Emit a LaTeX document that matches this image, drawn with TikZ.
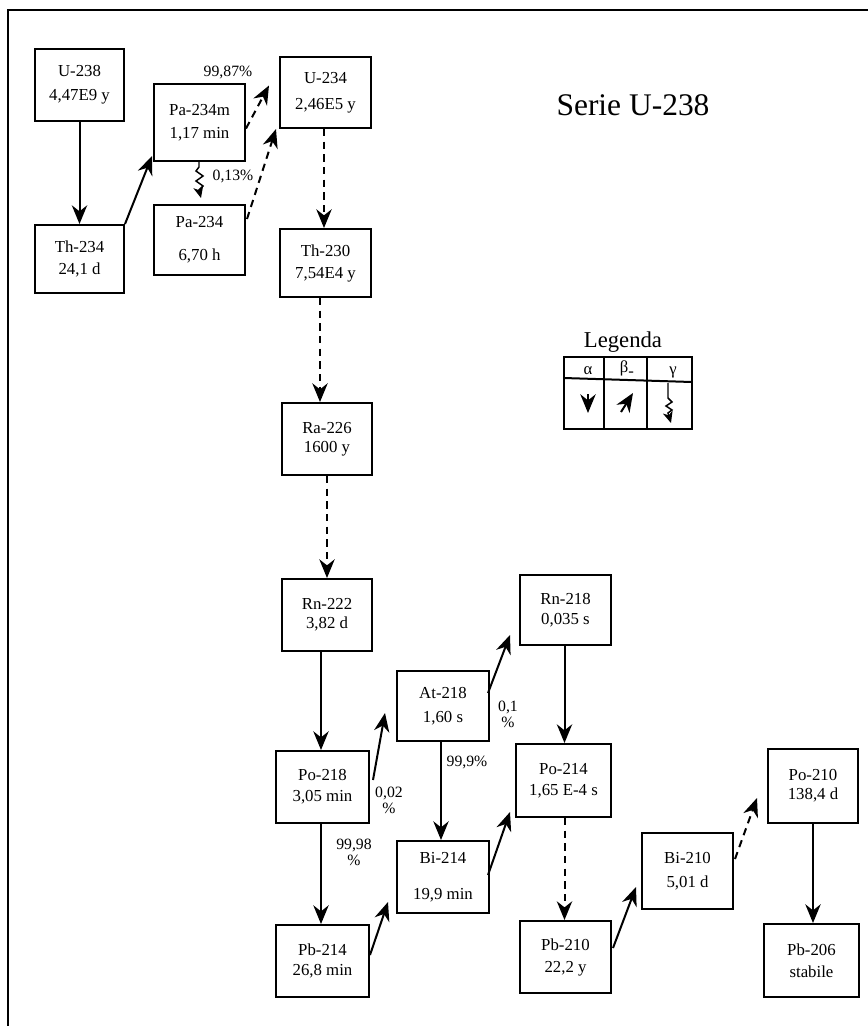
\documentclass[tikz,border=0pt]{standalone}
\usepackage{fontspec}
\setmainfont{Liberation Serif}
\usetikzlibrary{arrows.meta,calc}
\begin{document}
\begin{tikzpicture}[x=0.75pt,y=-0.75pt,
  box/.style={draw, line width=1.5pt, inner sep=0pt, align=center, font=\fontsize{12.6}{14}\selectfont},
  arr/.style={line width=1.5pt, -{Stealth[length=14pt,width=11.5pt,inset=4.5pt]}},
  darr/.style={arr, dash pattern=on 5.5pt off 4pt},
  garr/.style={line width=1.1pt, -{Stealth[length=8.5pt,width=7.5pt,inset=2.5pt]}},
  pct/.style={font=\fontsize{11.8}{12}\selectfont, align=center, inner sep=0pt},
  frame/.style={line width=1.5pt},
]
\useasboundingbox (0,0) rectangle (868,1026);
% frame
\coordinate (fbl) at (8,1026);
\coordinate (ftl) at (8,10);
\coordinate (ftr) at (868,10);
\draw[frame] (fbl) -- (ftl) -- (ftr);

% boxes
\node[box, minimum width=66.75pt, minimum height=54pt] (u238) at (79.5,85) {U-238\\[4pt]4,47E9 y};
\node[box, minimum width=66.75pt, minimum height=51pt] (th234) at (79.5,259) {Th-234\\[2.5pt]24,1 d};
\node[box, minimum width=68.25pt, minimum height=57.75pt] (pa234m) at (199.5,122.5) {Pa-234m\\[3pt]1,17 min};
\node[box, minimum width=68.25pt, minimum height=52.5pt] (pa234) at (199.5,240) {Pa-234\\[10.5pt]6,70 h};
\node[box, minimum width=68.25pt, minimum height=53.25pt] (u234) at (325.5,92.5) {U-234\\[5.5pt]2,46E5 y};
\node[box, minimum width=68.25pt, minimum height=51pt] (th230) at (325.5,263) {Th-230\\[2.5pt]7,54E4 y};
\node[box, minimum width=67.5pt, minimum height=54pt] (ra226) at (327,439) {Ra-226\\1600 y};
\node[box, minimum width=67.5pt, minimum height=54pt] (rn222) at (327,615) {Rn-222\\3,82 d};
\node[box, minimum width=69.75pt, minimum height=54pt] (po218) at (322.5,787) {Po-218\\[1.7pt]3,05 min};
\node[box, minimum width=69.75pt, minimum height=54pt] (pb214) at (322.5,961) {Pb-214\\[1pt]26,8 min};
\node[box, minimum width=69pt, minimum height=52.5pt] (at218) at (443,706) {At-218\\[4pt]1,60 s};
\node[box, minimum width=69pt, minimum height=54pt] (bi214) at (443,877) {Bi-214\\[13pt]19,9 min};
\node[box, minimum width=68.25pt, minimum height=52.5pt] (rn218) at (565.5,610) {Rn-218\\[1pt]0,035 s};
\node[box, minimum width=71.25pt, minimum height=54.75pt] (po214) at (563.5,780.5) {Po-214\\[1.7pt]1,65 E-4 s};
\node[box, minimum width=68.25pt, minimum height=54pt] (pb210) at (565.5,957) {Pb-210\\[2.5pt]22,2 y};
\node[box, minimum width=68.25pt, minimum height=57pt] (bi210) at (687.5,871) {Bi-210\\[4pt]5,01 d};
\node[box, minimum width=67.5pt, minimum height=55.5pt] (po210) at (813,786) {Po-210\\138,4 d};
\node[box, minimum width=71.25pt, minimum height=54.75pt] (pb206) at (811.5,960.5) {Pb-206\\[2.5pt]stabile};

% connectors
\draw[arr] (u238.south) -- (th234.north);
\draw[arr] (th234.north east) -- ($(pa234m.south west)+(-1,-6)$);
\draw[darr] ($(pa234m.east)+(0,6)$) -- ($(u234.west)+(-10,-7)$);
\draw[garr] ($(pa234m.south)+(-0.5,0)$) -- ++(0,5) -- ++(-3,4) -- ++(7,5) -- ++(-7,5) -- ++(7,5) -- ++(-4,4) -- ($(pa234.north)+(1.5,-6)$);
\draw[darr] ($(pa234.north east)+(1,15)$) -- ($(u234.south west)+(-3,0)$);
\draw[darr] ($(u234.south)+(-1.5,0)$) -- ($(th230.north)+(-1.5,0)$);
\draw[darr] ($(th230.south)+(-5.5,0)$) -- ($(ra226.north)+(-7,0)$);
\draw[darr] (ra226.south) -- (rn222.north);
\draw[arr] ($(rn222.south)+(-6,0)$) -- ($(po218.north)+(-1.5,0)$);
\draw[arr] ($(po218.south)+(-1.5,0)$) -- ($(pb214.north)+(-1.5,0)$);
\draw[arr] ($(po218.east)+(3,-7)$) -- ($(at218.west)+(-11,7)$);
\draw[arr] ($(at218.east)+(-2,-13)$) -- ($(rn218.south west)+(-9,-11)$);
\draw[arr] ($(at218.south)+(-2,0)$) -- ($(bi214.north)+(-2,0)$);
\draw[arr] ($(rn218.south)+(-1,0)$) -- ($(po214.north)+(1,0)$);
\draw[arr] ($(bi214.east)+(-2,-2)$) -- ($(po214.south west)+(-5,-6)$);
\draw[arr] ($(pb214.east)+(0,-6)$) -- ($(bi214.south west)+(-8,-12)$);
\draw[darr] ($(po214.south)+(1,0)$) -- ($(pb210.north)+(-1,0)$);
\draw[arr] ($(pb210.east)+(1,-9)$) -- ($(bi210.south west)+(-5,-23)$);
\draw[darr] ($(bi210.east)+(1,-12)$) -- ($(po210.south west)+(-10,-26)$);
\draw[arr] (po210.south) -- (po210.south |- pb206.north);

% labels
\node[pct] (l1) at (228,72) {99,87\%};
\node[pct] (l2) at (233,176) {0,13\%};
\node[pct] (l3) at (389,800) {0,02\\\%};
\node[pct] (l4) at (354,852) {99,98\\\%};
\node[pct] (l5) at (508,714) {0,1\\\%};
\node[pct] (l6) at (467,762) {99,9\%};

% title
\node[font=\fontsize{23.6}{26}\selectfont, inner sep=0pt] (title) at (633,105) {Serie U-238};

% legend
\node[font=\fontsize{17}{19}\selectfont, inner sep=0pt] (legtitle) at (623,342) {Legenda};
\coordinate (lg1) at (564,357);
\coordinate (lg2) at (692,429);
\draw[line width=1.5pt] (lg1) rectangle (lg2);
\draw[line width=1.5pt] (564,378) -- (692,382);
\draw[line width=1.5pt] (604,357) -- (604,429);
\draw[line width=1.5pt] (647,357) -- (647,429);
\node[font=\fontsize{12.5}{14}\selectfont, inner sep=0pt] (ha) at (588,371) {α};
\node[font=\fontsize{12.5}{14}\selectfont, inner sep=0pt] (hb) at (627,369) {β\raisebox{-3pt}{-}};
\node[font=\fontsize{12.5}{14}\selectfont, inner sep=0pt] (hg) at (673,372) {γ};
\coordinate (sa1) at (588,394);
\coordinate (sa2) at (588,413);
\draw[arr] (sa1) -- (sa2);
\coordinate (sb1) at (621,412);
\coordinate (sb2) at (633,393);
\draw[arr] (sb1) -- (sb2);
\coordinate (sg1) at (668,383);
\coordinate (sg2) at (671,423);
\draw[garr] (sg1) -- ++(0,15) -- ++(4,4) -- ++(-6,4) -- ++(6,4) -- ++(-4,3) -- (sg2);
\end{tikzpicture}
\end{document}
